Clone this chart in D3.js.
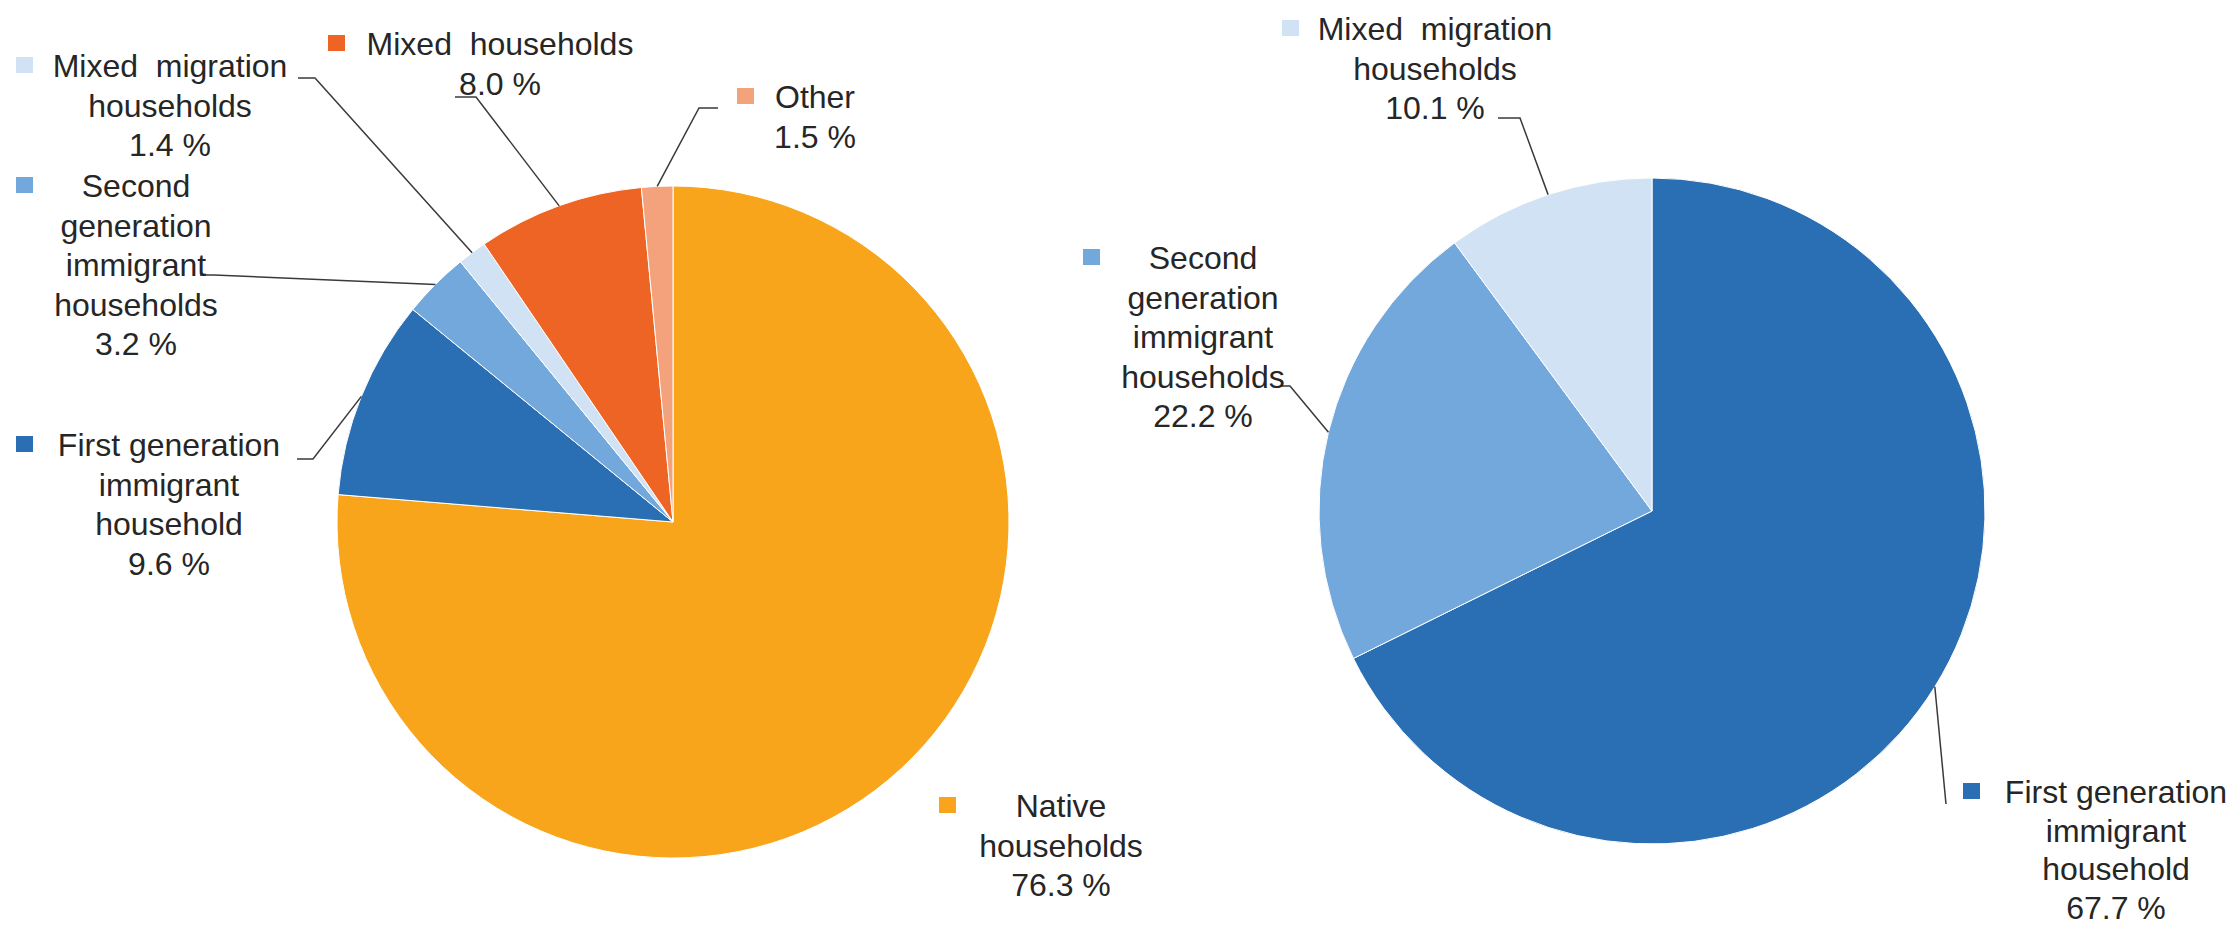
<!DOCTYPE html>
<html>
<head>
<meta charset="utf-8">
<script src="https://cdn.jsdelivr.net/npm/d3@7"></script>
<style>
  html, body { margin: 0; padding: 0; background: #ffffff; }
  svg text { font-family: "Liberation Sans", Arial, sans-serif; white-space: pre; }
</style>
</head>
<body>
<script>
// ---------------- DATA ----------------
const leftCategories = [
  "Native households",
  "First generation immigrant household",
  "Second generation immigrant households",
  "Mixed migration households",
  "Mixed households",
  "Other"
];
const leftValues = [76.3, 9.6, 3.2, 1.4, 8.0, 1.5];

const rightCategories = [
  "First generation immigrant household",
  "Second generation immigrant households",
  "Mixed migration households"
];
const rightValues = [67.7, 22.2, 10.1];

// ---------------- STYLE ----------------
const colors = {
  "Native households": "#F8A51B",
  "First generation immigrant household": "#2A6EB3",
  "Second generation immigrant households": "#73A8DD",
  "Mixed migration households": "#D1E2F4",
  "Mixed households": "#EE6424",
  "Other": "#F4A27B"
};

const W = 2238, H = 927;
const fontSize = 32, lineH = 39.5;

// label layout: line breaks, centre x, first baseline y, square x, line height, leader start points
const leftLayout = {
  "Native households": {lines: ["Native", "households"], cx: 1061, by: 817, sx: 939, lh: lineH, leader: null},
  "First generation immigrant household": {lines: ["First generation", "immigrant", "household"], cx: 169, by: 456, sx: 16, lh: lineH, leader: [[297, 459], [313, 459]]},
  "Second generation immigrant households": {lines: ["Second", "generation", "immigrant", "households"], cx: 136, by: 197, sx: 16, lh: lineH, leader: [[200, 275], [214, 275]]},
  "Mixed migration households": {lines: ["Mixed  migration", "households"], cx: 170, by: 77, sx: 16, lh: lineH, leader: [[298, 78], [315, 78]]},
  "Mixed households": {lines: ["Mixed  households"], cx: 500, by: 55, sx: 328, lh: lineH, leader: [[455, 97], [476, 97]]},
  "Other": {lines: ["Other"], cx: 815, by: 108, sx: 737, lh: lineH, leader: [[718, 108], [699, 108]]}
};
const rightLayout = {
  "First generation immigrant household": {lines: ["First generation", "immigrant", "household"], cx: 2116, by: 803, sx: 1963, lh: 38.5, leader: [[1946, 804]]},
  "Second generation immigrant households": {lines: ["Second", "generation", "immigrant", "households"], cx: 1203, by: 269, sx: 1083, lh: lineH, leader: [[1280, 386], [1290, 386]]},
  "Mixed migration households": {lines: ["Mixed  migration", "households"], cx: 1435, by: 40, sx: 1282, lh: lineH, leader: [[1498, 118], [1520, 118]]}
};

const pct = v => d3.format(".1f")(v) + " %";

const svg = d3.select("body").append("svg")
  .attr("width", W).attr("height", H)
  .style("display", "block");

function drawPie(cats, vals, layout, cx, cy, r) {
  const data = cats.map((c, i) => ({cat: c, value: vals[i]}));
  const pie = d3.pie().sort(null).value(d => d.value).startAngle(0).endAngle(2 * Math.PI);
  const arcs = pie(data);
  const arc = d3.arc().innerRadius(0).outerRadius(r);
  const edge = d3.arc().innerRadius(r).outerRadius(r);

  const g = svg.append("g").attr("transform", `translate(${cx},${cy})`);
  g.selectAll("path.slice").data(arcs).join("path")
    .attr("class", "slice")
    .attr("d", arc)
    .attr("fill", d => colors[d.data.cat])
    .attr("stroke", "#ffffff")
    .attr("stroke-width", 1);

  const lineGen = d3.line();
  arcs.forEach(a => {
    const L = layout[a.data.cat];
    const lines = L.lines.concat([pct(a.data.value)]);
    if (L.leader) {
      const c = edge.centroid(a);
      const pts = L.leader.concat([[cx + c[0], cy + c[1]]]);
      svg.append("path")
        .attr("d", lineGen(pts))
        .attr("fill", "none")
        .attr("stroke", "#3a3a3a")
        .attr("stroke-width", 1.5);
    }
    svg.append("rect")
      .attr("x", L.sx).attr("y", L.by - 20)
      .attr("width", 17).attr("height", 16)
      .attr("fill", colors[a.data.cat]);
    const t = svg.append("text")
      .attr("text-anchor", "middle")
      .attr("font-size", fontSize)
      .attr("fill", "#262626");
    lines.forEach((ln, i) => {
      t.append("tspan").attr("x", L.cx).attr("y", L.by + i * L.lh).text(ln);
    });
  });
}

drawPie(leftCategories, leftValues, leftLayout, 673, 522, 336);
drawPie(rightCategories, rightValues, rightLayout, 1652, 511, 333);
</script>
</body>
</html>
